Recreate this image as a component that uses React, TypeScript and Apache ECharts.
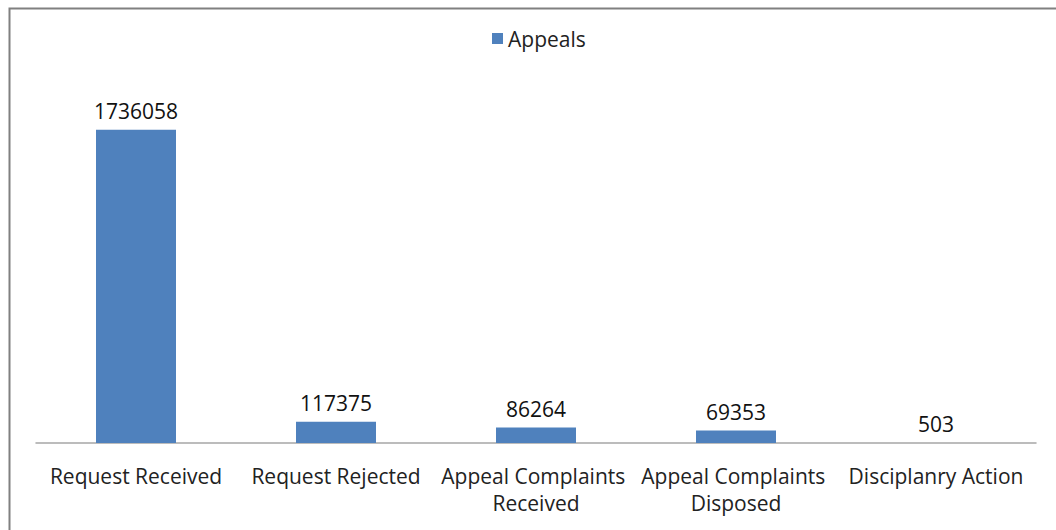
import React, { useEffect, useRef } from "react";
import * as echarts from "echarts";

const categories = [
  "Request Received",
  "Request Rejected",
  "Appeal Complaints Received",
  "Appeal Complaints Disposed",
  "Disciplanry Action",
];
const appealsValues = [1736058, 117375, 86264, 69353, 503];
const seriesName = "Appeals";

export default function App() {
  const ref = useRef<HTMLDivElement>(null);
  useEffect(() => {
    if (!ref.current) return;
    const chart = echarts.init(ref.current, undefined, { renderer: "svg" });
    const font = "Open Sans";
    chart.setOption({
      animation: false,
      backgroundColor: "#ffffff",
      textStyle: { fontFamily: font },
      legend: {
        data: [seriesName],
        top: 23,
        left: 487,
        itemWidth: 11,
        itemHeight: 11,
        itemGap: 8,
        textStyle: { fontSize: 21, color: "#222", fontFamily: font },
        icon: "rect",
      },
      grid: { left: 36, right: 20, top: 82, bottom: 87, containLabel: false },
      xAxis: {
        type: "category",
        data: categories,
        axisLine: { lineStyle: { color: "#a6a6a6", width: 1.5 } },
        axisTick: { show: false },
        axisLabel: {
          interval: 0,
          fontSize: 21,
          color: "#222",
          fontFamily: font,
          margin: 19,
          width: 198,
          overflow: "break",
          lineHeight: 27,
        },
      },
      yAxis: {
        type: "value",
        min: 0,
        max: 2000000,
        show: false,
        splitLine: { show: false },
      },
      series: [
        {
          name: seriesName,
          type: "bar",
          data: appealsValues,
          barWidth: "40%",
          itemStyle: { color: "#4F81BD" },
          label: {
            show: true,
            position: "top",
            distance: 8,
            fontSize: 21,
            color: "#111",
            fontFamily: font,
          },
        },
      ],
      graphic: [
        {
          type: "polyline",
          shape: { points: [[9.5, 530], [9.5, 8.5], [1056, 8.5]] },
          style: { stroke: "#808080", lineWidth: 2, fill: null },
          silent: true,
        },
      ],
    });
    return () => chart.dispose();
  }, []);
  return (
    <div
      ref={ref}
      style={{ position: "fixed", left: 0, top: 0, width: 1056, height: 530 }}
    />
  );
}
